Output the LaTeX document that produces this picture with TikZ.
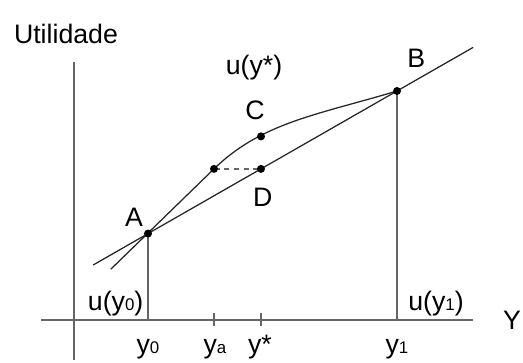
\documentclass[tikz,border=0pt]{standalone}
\usepackage{fontspec}
\setmainfont{Liberation Sans}
\usetikzlibrary{calc}
\newcommand\idx[1]{{\fontsize{12}{14}\selectfont #1}}

\begin{document}
\begin{tikzpicture}[font=\fontsize{19}{23}\selectfont,inner sep=0pt,
  axis/.style={line width=1pt,black!60},
  curve/.style={line width=0.9pt,black!85},
  lbl/.style={anchor=base}]
  \useasboundingbox(-1.85,-1.075)rectangle(11.225,8.0);
  \coordinate(O)at(0,0);
  \coordinate(A)at(1.85,2.16);
  \coordinate(B)at(8.075,5.725);
  \coordinate(C)at(4.675,4.59);
  \coordinate(D)at($(A)!0.4538!(B)$);
  \coordinate(E)at($(D)+(-1.175,0)$);
  \coordinate(S)at(0.92,1.27);

  \draw[axis](0,6.45)--(0,-1.0);
  \draw[axis](-0.825,0)--(9.975,0);
  \draw[axis](A)--(A|-O);
  \draw[axis](B)--(B|-O);
  \draw[axis](E|-O)+(0,0.17)--+(0,-0.15);
  \draw[axis](D|-O)+(0,0.17)--+(0,-0.15);

  \draw[curve]($(A)!-0.22!(B)$)--($(A)!1.306!(B)$);
  \draw[curve](S)--(E)..controls+(1.2,1.164)and+(-2.0,-0.6)..(B);
  \draw[line width=0.9pt,black!60,dash pattern=on 4pt off 3pt](E)--(D);
  \foreach \p in {A,B,C,D,E}
    \fill(\p)circle(0.1);

  \node[lbl](util)at(-0.2,6.9){Utilidade};
  \node[lbl](uys)at(4.5,6.125){u(y*)};
  \node[lbl](lC)at(4.525,5.0){C};
  \node[lbl](lB)at(8.56,6.32){B};
  \node[lbl](lA)at(1.5,2.33){A};
  \node[lbl](lD)at(4.72,2.825){D};
  \node[lbl](uy0)at(1.04,0.24){u(y\idx{0})};
  \node[lbl](uy1)at(9.05,0.24){u(y\idx{1})};
  \node[lbl](lY)at(10.95,-0.25){Y};
  \node[lbl](y0)at(1.85,-0.85){y\idx{0}};
  \node[lbl](ya)at(3.525,-0.85){y\idx{a}};
  \node[lbl](ys)at(4.65,-0.85){y*};
  \node[lbl](y1)at(8.075,-0.85){y\idx{1}};
\end{tikzpicture}
\end{document}
